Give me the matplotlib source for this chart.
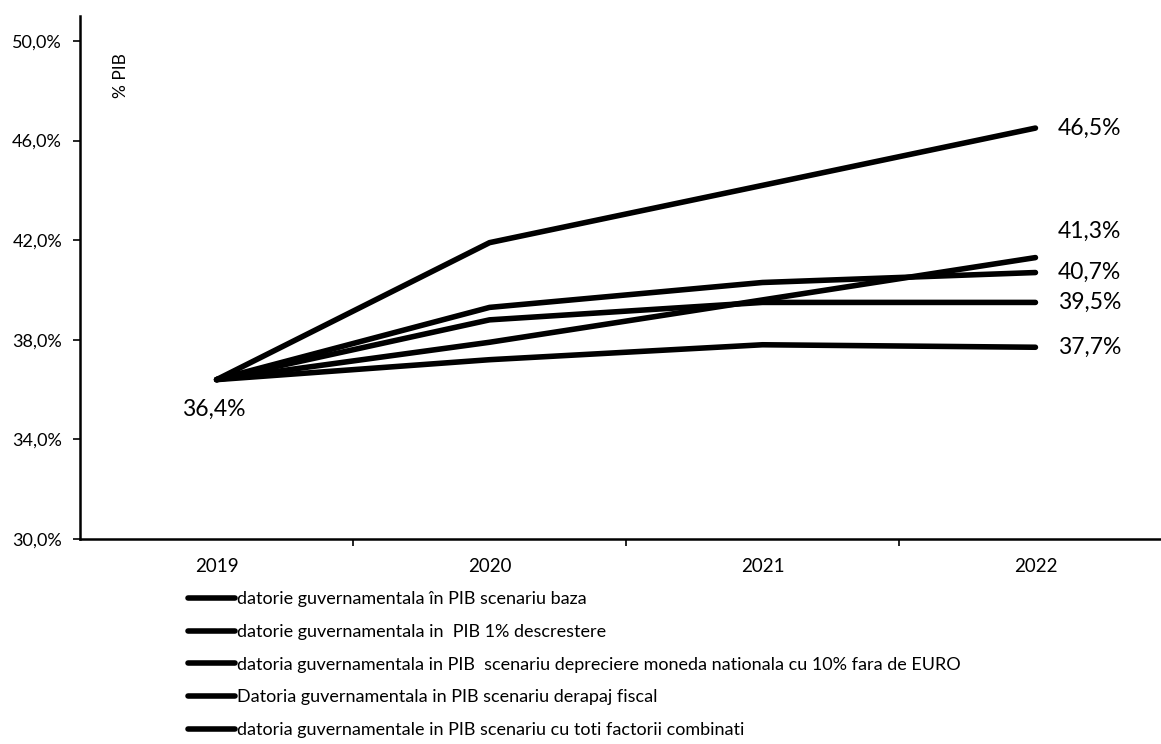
import matplotlib
matplotlib.use("Agg")

import matplotlib.pyplot as plt  # noqa: E402
from matplotlib.ticker import FixedLocator, FuncFormatter  # noqa: E402

years = ["2019", "2020", "2021", "2022"]

baza = [36.4, 37.2, 37.8, 37.7]
descrestere = [36.4, 38.8, 39.5, 39.5]
depreciere = [36.4, 39.3, 40.3, 40.7]
derapaj = [36.4, 37.9, 39.6, 41.3]
combinati = [36.4, 41.9, 44.2, 46.5]

labels = [
    "datorie guvernamentala în PIB scenariu baza",
    "datorie guvernamentala in  PIB 1% descrestere",
    "datoria guvernamentala in PIB  scenariu depreciere moneda nationala cu 10% fara de EURO",
    "Datoria guvernamentala in PIB scenariu derapaj fiscal",
    "datoria guvernamentale in PIB scenariu cu toti factorii combinati",
]
series = [baza, descrestere, depreciere, derapaj, combinati]

plt.rcParams.update({
    "font.family": ["Lato", "DejaVu Sans"],
    "font.size": 13,
})

fig = plt.figure(figsize=(11.61, 7.44), dpi=100)
ax = fig.add_axes([0.069, 0.2755, 0.931, 0.703])

x = list(range(len(years)))
for vals, lab in zip(series, labels):
    ax.plot(x, vals, color="black", linewidth=4.0, solid_capstyle="round",
            label=lab)

ax.set_xlim(-0.5, 3.46)
ax.set_ylim(30, 51)
ax.yaxis.set_major_locator(FixedLocator([30, 34, 38, 42, 46, 50]))
ax.yaxis.set_major_formatter(FuncFormatter(lambda v, _: f"{v:.1f}%".replace(".", ",")))
ax.set_xticks(x)
ax.set_xticklabels(years)
ax.xaxis.set_minor_locator(FixedLocator([0.5, 1.5, 2.5]))
ax.tick_params(axis="x", which="major", length=0, pad=14, labelsize=13.5)
ax.tick_params(axis="x", which="minor", length=5, width=1.2, direction="out")
ax.tick_params(axis="y", length=5, width=1.2, pad=8, labelsize=13)

for side in ("top", "right"):
    ax.spines[side].set_visible(False)
for side in ("left", "bottom"):
    ax.spines[side].set_linewidth(1.8)

ax.text(-0.35, 48.6, "% PIB", rotation=90, fontsize=12.5, ha="center", va="center")

# data labels
ax.annotate("36,4%", (0, baza[0]), xytext=(-2, -14), textcoords="offset points",
            ha="center", va="top", fontsize=16.5)
end_labels = [(baza[-1], 0), (descrestere[-1], 0), (depreciere[-1], 0),
              (derapaj[-1], 19), (combinati[-1], 0)]
for (val, dy) in end_labels:
    ax.annotate(f"{val:.1f}%".replace(".", ","), (3, val), xytext=(16, dy),
                textcoords="offset points", ha="left", va="center", fontsize=16.5)

fig.legend(loc="upper left", bbox_to_anchor=(0.162, 0.205), frameon=False,
           handlelength=2.6, handletextpad=0.1, labelspacing=0.92,
           fontsize=13, borderaxespad=0, borderpad=0)

fig.savefig("out.png", dpi=100, facecolor="white")
